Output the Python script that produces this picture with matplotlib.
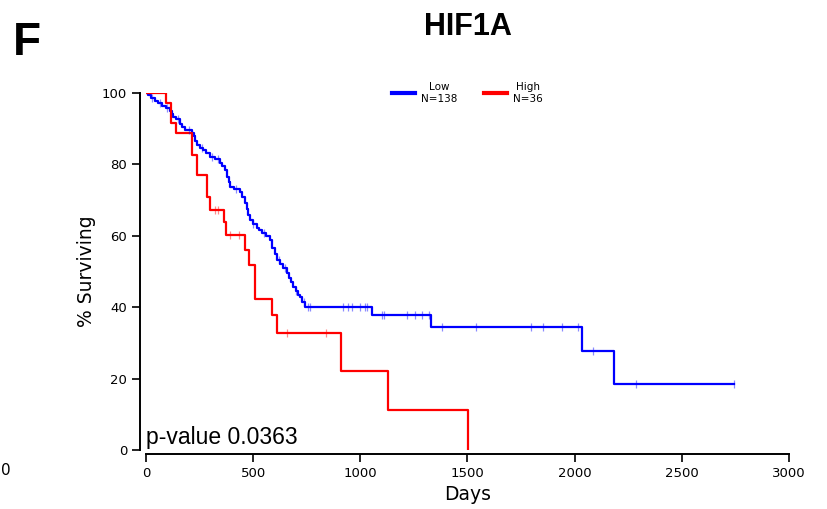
import matplotlib
matplotlib.use("Agg")
import matplotlib.pyplot as plt
import numpy as np

# Kaplan-Meier step points (days, % surviving)
low_t = [0, 10, 25, 40, 57, 75, 95, 112, 120, 127, 140, 159, 168, 180, 213, 222,
         230, 237, 250, 266, 280, 299, 320, 345, 355, 369, 378, 386, 392, 410, 439,
         450, 462, 470, 478, 485, 500, 517, 525, 540, 560, 579, 590, 600, 610, 625,
         640, 657, 665, 676, 686, 700, 710, 719, 730, 742, 1056, 1330, 2036, 2184,
         2744]
low_s = [100, 99.3, 98.6, 97.8, 97.1, 96.4, 95.7, 95.0, 94.2, 93.4, 92.7, 91.3,
         90.6, 89.6, 88.7, 87.9, 86.5, 85.4, 84.7, 84.0, 83.2, 82.2, 81.4, 80.4,
         79.6, 78.4, 76.6, 75.2, 73.8, 73.1, 72.4, 70.8, 69.2, 67.5, 65.8, 64.4,
         63.4, 62.1, 61.5, 60.8, 60.0, 58.8, 56.5, 55.0, 53.2, 52.2, 51.1, 49.6,
         48.2, 47.0, 45.7, 44.5, 43.4, 42.9, 41.4, 40.0, 37.8, 34.5, 27.7, 18.4,
         18.4]
low_cens = [30, 65, 100, 150, 200, 260, 310, 335, 420, 500, 550, 620, 650, 700,
            735, 757, 765, 918, 944, 960, 998, 1022, 1032, 1100, 1112, 1217, 1255,
            1287, 1322, 1380, 1540, 1795, 1854, 1940, 2017, 2084, 2287, 2744]

high_t = [0, 92, 115, 138, 215, 237, 286, 299, 364, 373, 462, 482, 509, 586, 611,
          910, 1128, 1503]
high_s = [100, 97.2, 91.7, 88.9, 82.6, 77.1, 71.0, 67.2, 64.0, 60.2, 56.0, 51.8,
          42.3, 37.8, 32.9, 22.2, 11.2, 0]
high_cens = [322, 336, 392, 434, 656, 840]

x_ticks = [0, 500, 1000, 1500, 2000, 2500, 3000]
y_ticks = [0, 20, 40, 60, 80, 100]


def surv_at(t_list, s_list, t):
    i = np.searchsorted(t_list, t, side="right") - 1
    return s_list[i]


fig = plt.figure(figsize=(8.28, 5.09), dpi=100)
ax = fig.add_axes([0.1763, 0.1159, 0.7766, 0.7014])

l1, = ax.step(low_t, low_s, where="post", color="#0000ff", lw=1.6)
l2, = ax.step(high_t, high_s, where="post", color="#ff0000", lw=1.6)

ax.plot(low_cens, [surv_at(low_t, low_s, t) for t in low_cens], "|",
        color="#0000ff", ms=6, mew=0.9, alpha=0.45)
ax.plot(high_cens, [surv_at(high_t, high_s, t) for t in high_cens], "|",
        color="#ff0000", ms=6, mew=0.9, alpha=0.45)

ax.set_xlim(0, 3000)
ax.set_ylim(0, 100)
ax.set_xticks(x_ticks)
ax.set_yticks(y_ticks)
ax.tick_params(labelsize=9.5, length=6, width=1.2, direction="out")
for side in ["top", "right"]:
    ax.spines[side].set_visible(False)
ax.spines["left"].set_position(("outward", 4))
ax.spines["bottom"].set_position(("outward", 3))
ax.spines["left"].set_linewidth(1.4)
ax.spines["bottom"].set_linewidth(1.4)

ax.set_xlabel("Days", fontsize=13.5, labelpad=3)
ax.set_ylabel("% Surviving", fontsize=13.5, labelpad=4)

ax.text(0, 1.7, "p-value 0.0363", fontsize=16.5, family="Liberation Sans",
        ha="left", va="baseline")

ax.legend([l1, l2], ["Low\nN=138", "High\nN=36"], ncol=2, frameon=False,
          loc="center", bbox_to_anchor=(0.5, 1.0), fontsize=7.5,
          handlelength=2.2, handletextpad=0.6, columnspacing=2.5)
for ln in ax.get_legend().get_lines():
    ln.set_linewidth(3)
for txt in ax.get_legend().get_texts():
    txt.set_multialignment("center")

fig.text(0.565, 0.947, "HIF1A", fontsize=22, fontweight="bold",
         family="Liberation Sans", ha="center", va="center")
fig.text(0.015, 0.915, "F", fontsize=33, fontweight="bold",
         family="Liberation Sans", ha="left", va="center")
fig.text(0.001, 0.075, "0", fontsize=11, ha="left", va="center")

fig.savefig("out.png", dpi=100)
